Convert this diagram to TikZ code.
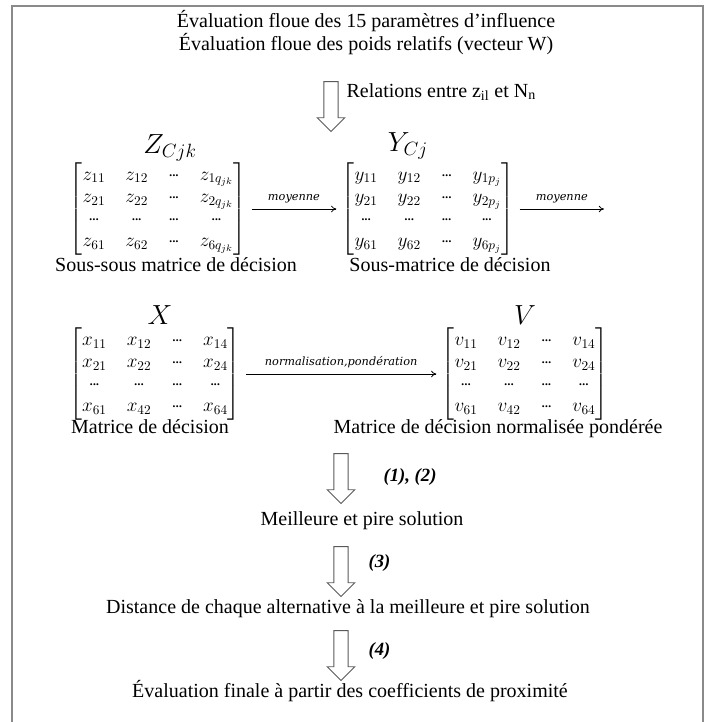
\documentclass[tikz,border=0pt]{standalone}
\usepackage{amsmath}
\usepackage{fontspec}
\setmainfont{Liberation Serif}
\newfontfamily\lblfont{DejaVu Serif}
\usepackage{tikz}
\usetikzlibrary{
  arrows.meta,
  positioning,
  shapes.arrows
}
\definecolor{FrameGray}{HTML}{8A8A8A}
\definecolor{ArrowGray}{HTML}{5A5A5A}
\newcommand\mdots{\mathord{\cdotp}\mkern-2mu\mathord{\cdotp}\mkern-2mu\mathord{\cdotp}}

\tikzset{
  txt/.style={inner sep=1pt,anchor=base,font=\fontsize{15}{17}\selectfont},
  mat/.style={inner sep=0pt,outer sep=4pt,font=\fontsize{14}{17}\selectfont},
  ttl/.style={inner sep=0pt,font=\fontsize{21}{23}\selectfont},
  lbl/.style={above,inner sep=4pt,font=\lblfont\fontsize{8.5}{10}\selectfont\itshape},
  stepnum/.style={inner sep=1pt,anchor=west,font=\fontsize{14}{16}\selectfont\bfseries\itshape},
  hollow/.style={single arrow,draw=ArrowGray,line width=0.7pt,fill=white,rotate=-90,
    minimum height=37.5pt,minimum width=20pt,inner xsep=0pt,inner ysep=5pt,
    single arrow head extend=5pt},
  flow/.style={-{To[length=4pt,width=5pt]},line width=0.6pt}
}

\begin{document}
\begin{tikzpicture}[x=0.75pt,y=-0.75pt]
  \useasboundingbox (0,0) rectangle (709,722);
  % frame
  \draw[FrameGray,line width=1.5pt] (12,722) -- (12,6) -- (703,6) -- (703,722);

  % top: fuzzy evaluation
  \node[txt] (eval1) at (366,27) {Évaluation floue des 15 paramètres d’influence};
  \node[txt] (eval2) at (366,50) {Évaluation floue des poids relatifs (vecteur W)};
  \node[hollow] (a0) at (331,103) {};
  \node[txt,anchor=base west] (rel) at (345,97) {Relations entre z\textsubscript{il} et N\textsubscript{n}};

  % sub-sub and sub matrices
  \node[ttl] (Zt) at (170,148) {$Z_{Cjk}$};
  \node[mat] (Zm) at (158,209) {$\setlength\arraycolsep{7.5pt}\renewcommand\arraystretch{0.98}
    \begin{bmatrix}
      z_{11} & z_{12} & \mdots & z_{1q_{jk}}\\
      z_{21} & z_{22} & \mdots & z_{2q_{jk}}\\
      \mdots & \mdots & \mdots & \mdots\\
      z_{61} & z_{62} & \mdots & z_{6q_{jk}}
    \end{bmatrix}$};
  \node[txt] (Zl) at (176,271) {Sous-sous matrice de décision};

  \node[ttl] (Yt) at (408,146) {$Y_{Cj}$};
  \node[mat] (Ym) at (428,209) {$\setlength\arraycolsep{7.5pt}\renewcommand\arraystretch{0.98}
    \begin{bmatrix}
      y_{11} & y_{12} & \mdots & y_{1p_j}\\
      y_{21} & y_{22} & \mdots & y_{2p_j}\\
      \mdots & \mdots & \mdots & \mdots\\
      y_{61} & y_{62} & \mdots & y_{6p_j}
    \end{bmatrix}$};
  \node[txt] (Yl) at (450,271) {Sous-matrice de décision};
  \coordinate (Yout) at (604,209);

  \draw[flow] (Zm) -- node[lbl] {moyenne} (Ym);
  \draw[flow] (Ym) -- node[lbl] {moyenne} (Yout);

  % decision matrices
  \node[ttl] (Xt) at (160,315) {$X$};
  \node[mat] (Xm) at (155,374) {$\setlength\arraycolsep{7.5pt}\renewcommand\arraystretch{0.98}
    \begin{bmatrix}
      x_{11} & x_{12} & \mdots & x_{14}\\
      x_{21} & x_{22} & \mdots & x_{24}\\
      \mdots & \mdots & \mdots & \mdots\\
      x_{61} & x_{42} & \mdots & x_{64}
    \end{bmatrix}$};
  \node[txt] (Xl) at (150,433) {Matrice de décision};

  \node[ttl] (Vt) at (525,315) {$V$};
  \node[mat] (Vm) at (525,374) {$\setlength\arraycolsep{7.5pt}\renewcommand\arraystretch{0.98}
    \begin{bmatrix}
      v_{11} & v_{12} & \mdots & v_{14}\\
      v_{21} & v_{22} & \mdots & v_{24}\\
      \mdots & \mdots & \mdots & \mdots\\
      v_{61} & v_{42} & \mdots & v_{64}
    \end{bmatrix}$};
  \node[txt] (Vl) at (498,433) {Matrice de décision normalisée pondérée};

  \draw[flow] (Xm) -- node[lbl] {normalisation,pondération} (Vm);

  % TOPSIS steps
  \node[hollow] (a1) at (341,475) {};
  \node[stepnum] (s1) at (382,477) {(1), (2)};
  \node[txt] (best) at (362,525) {Meilleure et pire solution};

  \node[hollow] (a2) at (341,568) {};
  \node[stepnum] (s2) at (367,563) {(3)};
  \node[txt] (dist) at (348,613) {Distance de chaque alternative à la meilleure et pire solution};

  \node[hollow] (a3) at (341,652) {};
  \node[stepnum] (s3) at (367,651) {(4)};
  \node[txt] (final) at (350,697) {Évaluation finale à partir des coefficients de proximité};
\end{tikzpicture}
\end{document}
